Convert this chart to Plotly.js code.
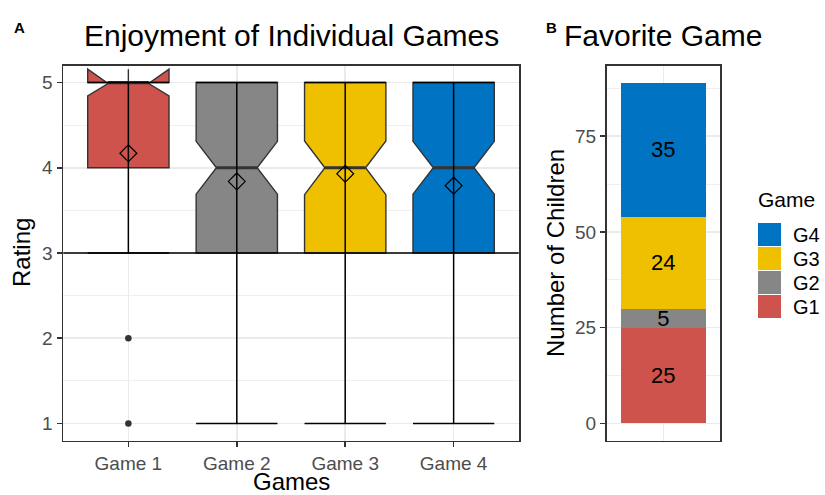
<!DOCTYPE html>
<html>
<head>
<meta charset="utf-8">
<script src="https://cdn.plot.ly/plotly-3.0.1.min.js"></script>
<style>html,body{margin:0;padding:0;background:#fff;}#chart{width:825px;height:495px;}</style>
</head>
<body>
<div id="chart"></div>
<script>
// ---------- data ----------
var games = ['Game 1', 'Game 2', 'Game 3', 'Game 4'];
var q1 = [4, 3, 3, 3];
var medians = [5, 4, 4, 4];
var q3 = [5, 5, 5, 5];
var lowerWhisker = [3, 1, 1, 1];
var upperWhisker = [5, 5, 5, 5];
var means = [4.17, 3.84, 3.93, 3.79];
var notchSpans = [0.157, 0.31, 0.315, 0.31];
var outlierGame = ['Game 1', 'Game 1'];
var outlierRating = [2, 1];
var gameColors = ['#CD534C', '#868686', '#EFC000', '#0073C2'];

var favGames = ['G1', 'G2', 'G3', 'G4'];
var favCounts = [25, 5, 24, 35];
var favColors = ['#CD534C', '#868686', '#EFC000', '#0073C2'];

var ratingTicks = [1, 2, 3, 4, 5];
var countTicks = [0, 25, 50, 75];

// ---------- layout constants ----------
var W = 825, H = 495;
var FONT = 'Liberation Sans, Arial, sans-serif';
var pxX = function (p) { return p / W; };
var pxY = function (p) { return 1 - p / H; };
var leftDom = [63.3, 518.7], rightDom = [606.7, 720], vDom = [440.5, 65.5];
var xRange = [0.4, 4.6];
var boxWidth = 0.75;
var notchFrac = 0.25;   // plotly: indent per side as fraction of box width -> median spans half the box

var pos = games.map(function (g, i) { return i + 1; });
var gameIndex = function (g) { return games.indexOf(g) + 1; };

var traces = [];
// boxes
games.forEach(function (g, i) {
  traces.push({
    type: 'box', x: [pos[i]], q1: [q1[i]], median: [medians[i]], q3: [q3[i]],
    lowerfence: [q1[i]], upperfence: [q3[i]], notchspan: [notchSpans[i]],
    notched: true, notchwidth: notchFrac, width: boxWidth, whiskerwidth: 0,
    boxpoints: false, fillcolor: gameColors[i],
    line: { color: '#333333', width: 1.4 }, xaxis: 'x', yaxis: 'y',
    showlegend: false, hoverinfo: 'skip'
  });
});
// thick median segments
traces.push({
  type: 'scatter', mode: 'markers', x: pos, y: medians, xaxis: 'x', yaxis: 'y',
  marker: { size: 1, opacity: 0 },
  error_x: { type: 'data', array: pos.map(function () { return boxWidth / 2 * (1 - 2 * notchFrac); }),
    width: 0, thickness: 3, color: '#333333' },
  showlegend: false, hoverinfo: 'skip'
});
// error bars (whiskers with caps)
var pxPerUnit = (leftDom[1] - leftDom[0]) / (xRange[1] - xRange[0]);
traces.push({
  type: 'scatter', mode: 'markers', x: pos, y: lowerWhisker, xaxis: 'x', yaxis: 'y',
  marker: { size: 1, opacity: 0 },
  error_y: { type: 'data', symmetric: false,
    array: upperWhisker.map(function (u, i) { return u - lowerWhisker[i]; }),
    arrayminus: pos.map(function () { return 0; }),
    width: boxWidth / 2 * pxPerUnit, thickness: 1.5, color: '#000000' },
  showlegend: false, hoverinfo: 'skip'
});
// means
traces.push({
  type: 'scatter', mode: 'markers', x: pos, y: means, xaxis: 'x', yaxis: 'y',
  marker: { symbol: 'diamond-open', size: 13, color: '#000000', line: { width: 1.2, color: '#000000' } },
  showlegend: false, hoverinfo: 'skip'
});
// outliers
traces.push({
  type: 'scatter', mode: 'markers', x: outlierGame.map(gameIndex), y: outlierRating, xaxis: 'x', yaxis: 'y',
  marker: { size: 6.5, color: '#333333' }, showlegend: false, hoverinfo: 'skip'
});
// stacked bar
favGames.forEach(function (g, i) {
  traces.push({
    type: 'bar', x: [1], y: [favCounts[i]], width: 0.9, name: g,
    marker: { color: favColors[i], line: { width: 0 } },
    text: [String(favCounts[i])], textposition: 'inside', insidetextanchor: 'middle',
    constraintext: 'none', textangle: 0,
    textfont: { family: FONT, size: 22, color: '#000000' },
    xaxis: 'x2', yaxis: 'y2', showlegend: false, hoverinfo: 'skip'
  });
});

var axisCommon = {
  showline: true, mirror: true, linecolor: '#333333', linewidth: 1.8,
  ticks: 'outside', ticklen: 5, tickwidth: 1.6, tickcolor: '#333333',
  tickfont: { family: FONT, size: 19, color: '#4D4D4D' },
  showgrid: true, gridcolor: '#EBEBEB', gridwidth: 1.6, zeroline: false, fixedrange: true
};
function ax(extra) { return Object.assign({}, axisCommon, extra); }

var shapes = [{
  type: 'line', xref: 'x domain', yref: 'y', x0: 0, x1: 1, y0: 3, y1: 3,
  line: { color: '#000000', width: 1.5 }, layer: 'above'
}];
var annotations = [
  { text: 'Enjoyment of Individual Games', x: pxX((leftDom[0] + leftDom[1]) / 2), y: pxY(35), xref: 'paper', yref: 'paper',
    showarrow: false, xanchor: 'center', yanchor: 'middle', font: { family: FONT, size: 30, color: '#000' } },
  { text: 'Favorite Game', x: pxX((rightDom[0] + rightDom[1]) / 2), y: pxY(35), xref: 'paper', yref: 'paper',
    showarrow: false, xanchor: 'center', yanchor: 'middle', font: { family: FONT, size: 30, color: '#000' } },
  { text: '<b>A</b>', x: pxX(19), y: pxY(27), xref: 'paper', yref: 'paper', showarrow: false,
    xanchor: 'center', yanchor: 'middle', font: { family: FONT, size: 15, color: '#000' } },
  { text: '<b>B</b>', x: pxX(551), y: pxY(27), xref: 'paper', yref: 'paper', showarrow: false,
    xanchor: 'center', yanchor: 'middle', font: { family: FONT, size: 15, color: '#000' } },
  { text: 'Rating', x: pxX(22), y: pxY((vDom[0] + vDom[1]) / 2), xref: 'paper', yref: 'paper', showarrow: false,
    textangle: -90, xanchor: 'center', yanchor: 'middle', font: { family: FONT, size: 24, color: '#000' } },
  { text: 'Games', x: pxX((leftDom[0] + leftDom[1]) / 2), y: pxY(481), xref: 'paper', yref: 'paper', showarrow: false,
    xanchor: 'center', yanchor: 'middle', font: { family: FONT, size: 24, color: '#000' } },
  { text: 'Number of Children', x: pxX(556), y: pxY((vDom[0] + vDom[1]) / 2), xref: 'paper', yref: 'paper', showarrow: false,
    textangle: -90, xanchor: 'center', yanchor: 'middle', font: { family: FONT, size: 24, color: '#000' } },
  { text: 'Game', x: pxX(756), y: pxY(200), xref: 'paper', yref: 'paper', showarrow: false,
    xanchor: 'left', yanchor: 'middle', font: { family: FONT, size: 21, color: '#000' } }
];
// custom legend, built from series arrays (top to bottom: last series first)
var keyTop = 223, keyStep = 24, keySize = 23, keyLeft = 758;
favGames.slice().reverse().forEach(function (g, k) {
  var i = favGames.length - 1 - k;
  var top = keyTop + k * keyStep;
  shapes.push({ type: 'rect', xref: 'paper', yref: 'paper', x0: pxX(keyLeft), x1: pxX(keyLeft + keySize),
    y0: pxY(top + keySize), y1: pxY(top), fillcolor: favColors[i], line: { width: 0 } });
  annotations.push({ text: g, x: pxX(791), y: pxY(top + keySize / 2), xref: 'paper', yref: 'paper', showarrow: false,
    xanchor: 'left', yanchor: 'middle', font: { family: FONT, size: 20, color: '#000' } });
});

var layout = {
  width: W, height: H, margin: { l: 0, r: 0, t: 0, b: 0 },
  paper_bgcolor: '#ffffff', plot_bgcolor: '#ffffff',
  font: { family: FONT },
  barmode: 'stack', boxmode: 'overlay', showlegend: false,
  xaxis: ax({ domain: [pxX(leftDom[0]), pxX(leftDom[1])], range: xRange, tickmode: 'array',
    tickvals: pos, ticktext: games, anchor: 'y' }),
  yaxis: ax({ domain: [pxY(vDom[0]), pxY(vDom[1])], range: [0.8, 5.2], tickmode: 'array', tickvals: ratingTicks,
    anchor: 'x', minor: { dtick: 0.5, tick0: 0.5, showgrid: true, gridcolor: '#EBEBEB', gridwidth: 0.8 } }),
  xaxis2: ax({ domain: [pxX(rightDom[0]), pxX(rightDom[1])], range: [0.4, 1.6], showticklabels: false,
    ticks: '', tickvals: [1], anchor: 'y2' }),
  yaxis2: ax({ domain: [pxY(vDom[0]), pxY(vDom[1])], range: [-4.45, 93.45], tickmode: 'array', tickvals: countTicks,
    anchor: 'x2', minor: { dtick: 12.5, tick0: 0, showgrid: true, gridcolor: '#EBEBEB', gridwidth: 0.8 } }),
  shapes: shapes,
  annotations: annotations
};

Plotly.newPlot('chart', traces, layout, { displayModeBar: false, staticPlot: true });
</script>
</body>
</html>
